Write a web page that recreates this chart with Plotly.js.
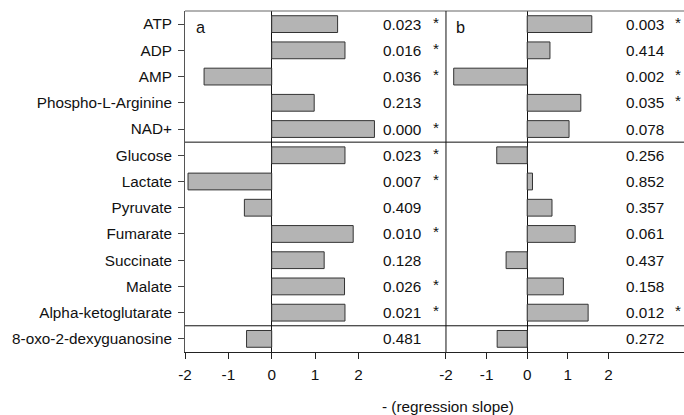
<!DOCTYPE html>
<html>
<head>
<meta charset="utf-8">
<script src="https://cdn.plot.ly/plotly-3.0.1.min.js"></script>
<style>html,body{margin:0;padding:0;background:#fff;}#chart{width:684px;height:415px;}</style>
</head>
<body>
<div id="chart"></div>
<script>
const categories = ["ATP","ADP","AMP","Phospho-L-Arginine","NAD+","Glucose","Lactate","Pyruvate","Fumarate","Succinate","Malate","Alpha-ketoglutarate","8-oxo-2-dexyguanosine"];
const slopeA = [1.52,1.69,-1.56,0.98,2.37,1.69,-1.93,-0.63,1.88,1.21,1.68,1.69,-0.58];
const slopeB = [1.59,0.56,-1.81,1.32,1.03,-0.75,0.13,0.61,1.18,-0.52,0.89,1.50,-0.74];
const pA = ["0.023","0.016","0.036","0.213","0.000","0.023","0.007","0.409","0.010","0.128","0.026","0.021","0.481"];
const pB = ["0.003","0.414","0.002","0.035","0.078","0.256","0.852","0.357","0.061","0.437","0.158","0.012","0.272"];
const starA = ["*","*","*","","*","*","*","","*","","*","*",""];
const starB = ["*","","*","*","","","","","","","","*",""];
const tickValsX = [-2,-1,0,1,2];

const FONT = "Liberation Sans, Arial, sans-serif";
const FS = 15.3;
const barStyle = {color:"#b4b4b4", line:{color:"#333333", width:1}};

const traces = [
  {type:"bar", orientation:"h", y:categories, x:slopeA, xaxis:"x", yaxis:"y", marker:barStyle, width:0.64, hoverinfo:"none"},
  {type:"bar", orientation:"h", y:categories, x:slopeB, xaxis:"x2", yaxis:"y", marker:barStyle, width:0.64, hoverinfo:"none"}
];

const annotations = [];
categories.forEach((c,i)=>{
  annotations.push({xref:"x", yref:"y", x:3.0, y:c, text:pA[i], showarrow:false, xanchor:"center", yanchor:"middle", font:{family:FONT,size:FS,color:"#111"}});
  if (starA[i]) annotations.push({xref:"x", yref:"y", x:3.78, y:c, yshift:2, text:starA[i], showarrow:false, xanchor:"center", yanchor:"middle", font:{family:FONT,size:FS,color:"#111"}});
  annotations.push({xref:"x2", yref:"y", x:2.9, y:c, text:pB[i], showarrow:false, xanchor:"center", yanchor:"middle", font:{family:FONT,size:FS,color:"#111"}});
  if (starB[i]) annotations.push({xref:"x2", yref:"y", x:3.71, y:c, yshift:2, text:starB[i], showarrow:false, xanchor:"center", yanchor:"middle", font:{family:FONT,size:FS,color:"#111"}});
});
annotations.push({xref:"paper", yref:"paper", x:0.018, y:0.985, text:"a", showarrow:false, xanchor:"left", yanchor:"top", font:{family:FONT,size:FS+1,color:"#111"}});
annotations.push({xref:"paper", yref:"paper", x:0.539, y:0.985, text:"b", showarrow:false, xanchor:"left", yanchor:"top", font:{family:FONT,size:FS+1,color:"#111"}});
annotations.push({xref:"paper", yref:"paper", x:0.527, y:-0.161, text:"- (regression slope)", showarrow:false, xanchor:"center", yanchor:"middle", font:{family:FONT,size:FS,color:"#111"}});

const axX = {
  tickmode:"array", tickvals:tickValsX, ticktext:tickValsX.map(String),
  ticks:"outside", ticklen:6, tickcolor:"#222", showgrid:false,
  zeroline:true, zerolinecolor:"#111", zerolinewidth:1,
  showline:true, linecolor:"#222", linewidth:1, anchor:"y", ticklabelstandoff:3,
  tickfont:{family:FONT,size:FS,color:"#111"}, fixedrange:true
};

const layout = {
  width:684, height:415,
  margin:{l:185, r:0, t:11, b:63},
  paper_bgcolor:"#fff", plot_bgcolor:"#fff",
  showlegend:false, bargap:0.36,
  font:{family:FONT,size:FS,color:"#111"},
  xaxis:Object.assign({}, axX, {domain:[0,0.523], range:[-2,4.02]}),
  xaxis2:Object.assign({}, axX, {domain:[0.523,1], range:[-2,3.86]}),
  yaxis:{type:"category", range:[12.5,-0.5], autorange:false, ticks:"outside", ticklen:6, tickcolor:"#444",
    showline:true, linecolor:"#555", linewidth:1, showgrid:false, zeroline:false, ticklabelstandoff:3,
    tickfont:{family:FONT,size:FS,color:"#111"}, fixedrange:true},
  annotations:annotations,
  shapes:[
    {type:"line", xref:"paper", yref:"paper", x0:0, x1:1, y0:1, y1:1, line:{color:"#666", width:1.2}},
    {type:"line", xref:"paper", yref:"paper", x0:0.523, x1:0.523, y0:0, y1:1, line:{color:"#111", width:1}},
    {type:"line", xref:"paper", yref:"y", x0:0, x1:1, y0:4.5, y1:4.5, line:{color:"#111", width:1}},
    {type:"line", xref:"paper", yref:"y", x0:0, x1:1, y0:11.5, y1:11.5, line:{color:"#111", width:1}}
  ]
};

Plotly.newPlot("chart", traces, layout, {staticPlot:true, displayModeBar:false});
</script>
</body>
</html>
